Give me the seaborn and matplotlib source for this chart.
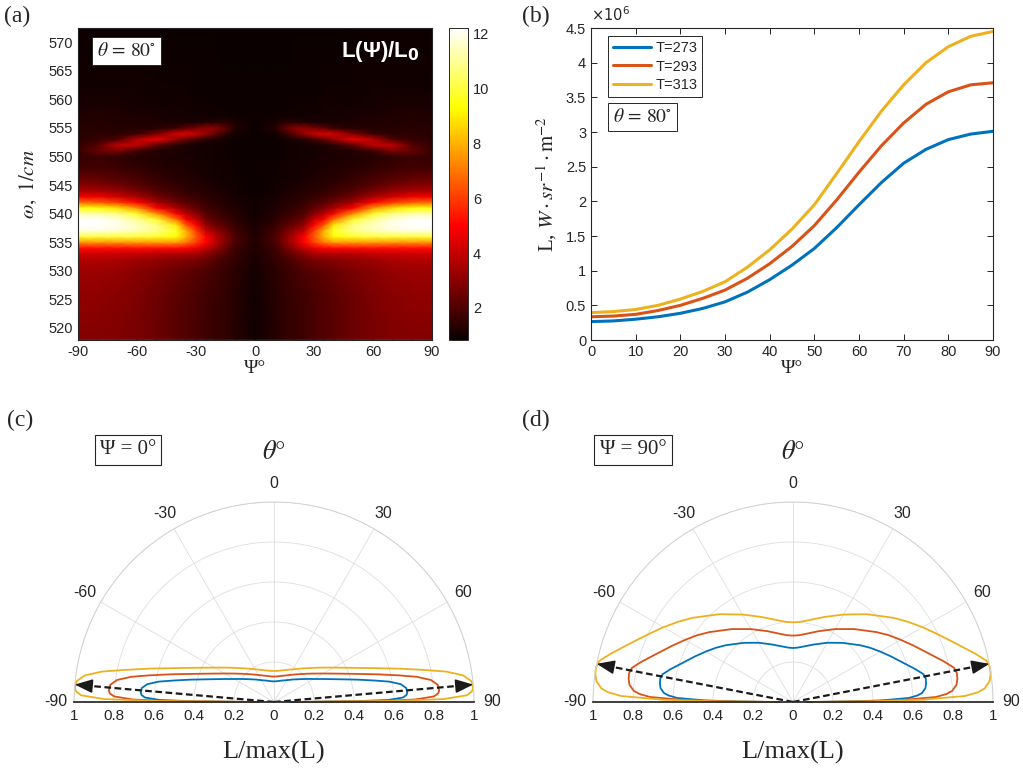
import matplotlib
matplotlib.use("Agg")
import matplotlib.pyplot as plt
import numpy as np
import pandas as pd
import seaborn as sns

# ---------------- (a) L(psi)/L0 map, read on a grid (psi >= 0 half, symmetric)
psi_half = [0, 10, 15, 20, 25, 30, 35, 40, 50, 60, 70, 80, 90]
omega_rows = [518, 522, 526, 530, 532, 533, 534, 535, 536, 537, 538, 539, 540,
              541, 542, 543, 544, 545, 546, 548, 550, 551, 552, 553, 554, 555,
              556, 557, 559, 562, 566, 572.5]
ratio_half = [
    [1.0, 1.3, 1.5, 1.6, 1.75, 1.9, 2.05, 2.2, 2.5, 2.7, 2.85, 2.9, 2.9],      # 518
    [1.0, 1.3, 1.5, 1.6, 1.75, 1.9, 2.05, 2.2, 2.5, 2.7, 2.9, 3.0, 3.0],       # 522
    [1.0, 1.35, 1.5, 1.65, 1.8, 1.95, 2.1, 2.25, 2.55, 2.8, 3.0, 3.1, 3.1],    # 526
    [1.05, 1.4, 1.6, 1.8, 2.0, 2.15, 2.3, 2.45, 2.75, 3.0, 3.2, 3.3, 3.3],     # 530
    [1.1, 1.5, 1.8, 2.1, 2.5, 2.8, 2.9, 3.0, 3.2, 3.4, 3.6, 3.7, 3.7],         # 532
    [1.1, 1.6, 2.1, 2.6, 3.0, 3.5, 3.6, 3.7, 3.8, 4.0, 4.1, 4.2, 4.2],         # 533
    [1.15, 1.7, 2.4, 3.2, 4.0, 4.6, 5.0, 5.1, 5.2, 5.2, 5.2, 5.2, 5.2],        # 534
    [1.2, 1.9, 2.8, 3.8, 5.0, 6.0, 7.0, 7.5, 7.6, 7.6, 7.5, 7.5, 7.5],         # 535
    [1.2, 1.9, 2.8, 3.8, 5.0, 6.5, 8.0, 9.3, 9.8, 10.0, 10.0, 10.0, 10.0],     # 536
    [1.15, 1.8, 2.5, 3.2, 4.0, 6.0, 8.0, 9.8, 10.8, 11.3, 11.6, 11.8, 11.8],   # 537
    [1.1, 1.6, 2.1, 2.5, 3.2, 5.0, 6.5, 9.0, 10.8, 11.5, 12.0, 12.2, 12.2],    # 538
    [1.05, 1.4, 1.8, 2.1, 2.6, 4.0, 5.0, 7.0, 9.8, 11.0, 11.8, 12.2, 12.2],    # 539
    [1.0, 1.3, 1.5, 1.8, 2.1, 3.0, 3.8, 5.0, 7.5, 9.8, 10.8, 11.2, 11.3],      # 540
    [1.0, 1.2, 1.4, 1.6, 1.8, 2.3, 2.8, 3.5, 5.0, 7.5, 8.8, 9.4, 9.5],         # 541
    [0.95, 1.1, 1.3, 1.4, 1.6, 1.9, 2.2, 2.6, 3.5, 5.0, 6.0, 6.6, 6.8],        # 542
    [0.95, 1.05, 1.2, 1.3, 1.4, 1.6, 1.8, 2.0, 2.6, 3.5, 4.2, 4.7, 4.8],       # 543
    [0.9, 1.0, 1.1, 1.2, 1.3, 1.4, 1.5, 1.7, 2.1, 2.7, 3.2, 3.5, 3.6],         # 544
    [0.9, 1.0, 1.05, 1.1, 1.2, 1.3, 1.4, 1.5, 1.8, 2.2, 2.6, 2.9, 3.0],        # 545
    [0.9, 0.95, 1.0, 1.05, 1.1, 1.2, 1.3, 1.35, 1.6, 1.9, 2.2, 2.4, 2.5],      # 546
    [0.9, 0.95, 1.0, 1.0, 1.05, 1.1, 1.15, 1.2, 1.35, 1.5, 1.7, 1.8, 1.8],     # 548
    [0.9, 0.9, 0.95, 1.0, 1.0, 1.05, 1.1, 1.1, 1.2, 1.3, 1.5, 1.68, 1.5],      # 550
    [0.9, 0.9, 0.95, 1.0, 1.0, 1.05, 1.1, 1.15, 1.24, 1.63, 2.75, 2.41, 1.6],  # 551
    [0.9, 0.9, 0.95, 1.0, 1.0, 1.07, 1.16, 1.29, 2.2, 3.86, 3.9, 2.11, 1.5],   # 552
    [0.9, 0.9, 0.97, 1.12, 1.28, 1.76, 2.29, 3.17, 4.67, 3.86, 2.0, 1.55, 1.4],  # 553
    [0.9, 0.97, 1.42, 2.34, 3.17, 4.03, 4.4, 4.19, 2.74, 1.63, 1.4, 1.45, 1.35],  # 554
    [0.9, 1.26, 2.25, 3.0, 3.17, 2.66, 2.29, 1.71, 1.29, 1.3, 1.3, 1.35, 1.3],    # 555
    [0.9, 1.14, 1.42, 1.4, 1.28, 1.16, 1.16, 1.1, 1.15, 1.2, 1.25, 1.3, 1.25],    # 556
    [0.9, 0.92, 0.97, 1.0, 1.0, 1.0, 1.05, 1.05, 1.1, 1.15, 1.2, 1.25, 1.2],      # 557
    [0.9, 0.9, 0.9, 0.95, 0.95, 0.95, 1.0, 1.0, 1.0, 1.05, 1.1, 1.1, 1.1],        # 559
    [0.88, 0.88, 0.88, 0.9, 0.9, 0.9, 0.92, 0.92, 0.95, 0.98, 1.0, 1.0, 1.0],     # 562
    [0.86, 0.86, 0.87, 0.88, 0.88, 0.88, 0.9, 0.9, 0.92, 0.94, 0.95, 0.95, 0.95], # 566
    [0.85, 0.85, 0.85, 0.86, 0.86, 0.86, 0.87, 0.87, 0.88, 0.9, 0.9, 0.9, 0.9],   # 572.5
]

# ---------------- (b) L vs psi at theta = 80 deg (units of 1e6)
psi_b = [0, 5, 10, 15, 20, 25, 30, 35, 40, 45, 50, 55, 60, 65, 70, 75, 80, 85, 90]
L_273 = [0.265, 0.275, 0.30, 0.335, 0.385, 0.455, 0.55, 0.69, 0.87, 1.08, 1.32,
         1.62, 1.95, 2.27, 2.55, 2.75, 2.89, 2.97, 3.01]
L_293 = [0.335, 0.345, 0.37, 0.425, 0.50, 0.60, 0.72, 0.89, 1.10, 1.35, 1.65,
         2.02, 2.42, 2.80, 3.13, 3.40, 3.58, 3.68, 3.71]
L_313 = [0.395, 0.41, 0.44, 0.50, 0.59, 0.70, 0.84, 1.05, 1.30, 1.60, 1.95,
         2.40, 2.86, 3.30, 3.68, 4.00, 4.23, 4.38, 4.45]
temps = ["T=273", "T=293", "T=313"]
colors = ["#0072BD", "#D95319", "#EDB120"]

# ---------------- (c), (d) angular patterns L/max(L), theta >= 0 half (symmetric)
theta_half = [0, 5, 10, 20, 30, 40, 50, 55, 60, 65, 70, 75, 78, 80, 82, 84, 86, 87, 88, 89, 89.5, 90]
c_273 = [0.103, 0.104, 0.106, 0.114, 0.126, 0.147, 0.178, 0.201, 0.230, 0.272, 0.333, 0.432,
         0.516, 0.586, 0.640, 0.665, 0.668, 0.663, 0.646, 0.570, 0.40, 0.08]
c_293 = [0.127, 0.128, 0.131, 0.140, 0.156, 0.181, 0.220, 0.248, 0.285, 0.336, 0.412, 0.535,
         0.640, 0.725, 0.792, 0.823, 0.828, 0.822, 0.80, 0.705, 0.50, 0.10]
c_313 = [0.155, 0.156, 0.159, 0.170, 0.189, 0.219, 0.266, 0.300, 0.344, 0.405, 0.497, 0.645,
         0.770, 0.875, 0.955, 0.993, 0.998, 0.99, 0.965, 0.85, 0.60, 0.12]
d_273 = [0.270, 0.273, 0.281, 0.306, 0.342, 0.386, 0.441, 0.472, 0.504, 0.540, 0.581, 0.634,
         0.667, 0.674, 0.672, 0.666, 0.647, 0.623, 0.580, 0.44, 0.27, 0.07]
d_293 = [0.332, 0.335, 0.345, 0.377, 0.421, 0.476, 0.544, 0.583, 0.622, 0.666, 0.717, 0.782,
         0.823, 0.832, 0.830, 0.822, 0.798, 0.769, 0.715, 0.54, 0.33, 0.08]
d_313 = [0.398, 0.402, 0.414, 0.452, 0.505, 0.573, 0.655, 0.70, 0.748, 0.80, 0.862, 0.94,
         0.99, 1.0, 0.998, 0.988, 0.96, 0.925, 0.86, 0.65, 0.40, 0.10]
peak_theta_c = [-85, 85]
peak_theta_d = [-79, 79]
r_ticks = [0, 0.2, 0.4, 0.6, 0.8, 1]
theta_ticks = [-90, -60, -30, 0, 30, 60, 90]

sns.set_theme(style="ticks")
plt.rcParams["font.family"] = ["Liberation Sans", "DejaVu Sans"]
plt.rcParams["mathtext.fontset"] = "stix"
plt.rcParams["axes.unicode_minus"] = False
SERIF = ["Liberation Serif", "DejaVu Serif"]
EDGE = "0.15"

W, H = 1023, 772
fig = plt.figure(figsize=(W / 100, H / 100), dpi=100)


def box(l, t, r, b):
    return [l / W, 1 - b / H, (r - l) / W, (b - t) / H]


def mirror(vals):
    vals = list(vals)
    return vals[:0:-1] + vals


def style_box(ax):
    for s in ax.spines.values():
        s.set_color(EDGE)
        s.set_linewidth(0.8)
    ax.tick_params(direction="in", top=True, right=True, colors=EDGE,
                   labelsize=10.5, length=4, width=0.7)


# ---------------- (a)
axa = fig.add_axes(box(78, 28, 432, 340))
psi_full = [-p for p in psi_half[:0:-1]] + psi_half
grid = np.array([mirror(row) for row in ratio_half])
mesh = axa.pcolormesh(psi_full, omega_rows, grid, shading="gouraud",
                      cmap="hot", vmin=0.83, vmax=12.2, rasterized=True)
axa.set_xlim(-90, 90)
axa.set_ylim(517.9, 572.5)
axa.set_xticks(range(-90, 91, 30))
axa.set_yticks(range(520, 571, 5))
style_box(axa)
axa.set_xlabel("Ψ°", family=SERIF, fontsize=14, labelpad=1)
axa.set_ylabel(r"$\omega,\ 1/cm$", fontsize=15, labelpad=7)
axa.text(0.054, 0.955, r"$\theta\,=\,80^{\circ}$", transform=axa.transAxes,
         fontsize=14, va="top", ha="left",
         bbox=dict(boxstyle="square,pad=0.25", fc="white", ec=EDGE, lw=0.7))
axa.text(0.965, 0.925, r"L(Ψ)/L$_\mathbf{0}$", transform=axa.transAxes, color="white",
         fontsize=16, fontweight="bold", ha="right", va="center",
         math_fontfamily="dejavusans")

cax = fig.add_axes(box(449, 28, 468, 340))
cb = fig.colorbar(mesh, cax=cax, ticks=[2, 4, 6, 8, 10, 12])
cb.outline.set_edgecolor(EDGE)
cb.outline.set_linewidth(0.7)
cax.tick_params(direction="in", labelsize=10.5, colors=EDGE, length=3)

# ---------------- (b)
axb = fig.add_axes(box(591, 28, 993, 340))
for lab, vals, col in zip(temps, [L_273, L_293, L_313], colors):
    df = pd.DataFrame({"psi": psi_b, "L": np.array(vals) * 1e6})
    sns.lineplot(data=df, x="psi", y="L", color=col, lw=2.2, label=lab, ax=axb)
axb.set_xlim(0, 90)
axb.set_ylim(0, 4.5e6)
axb.set_xticks(range(0, 91, 10))
axb.set_yticks(np.arange(0, 4.51e6, 0.5e6))
axb.yaxis.set_major_formatter(matplotlib.ticker.FuncFormatter(lambda v, p: f"{v / 1e6:g}"))
style_box(axb)
axb.text(0.0, 1.012, r"$\times10^{6}$", transform=axb.transAxes, fontsize=10.5,
         color=EDGE, ha="left", va="bottom", math_fontfamily="dejavusans")
axb.set_xlabel("Ψ°", family=SERIF, fontsize=14, labelpad=1)
axb.set_ylabel(r"L, $W \cdot sr^{-1} \cdot \mathrm{m}^{-2}$", family=SERIF,
               fontsize=15, labelpad=5)
leg = axb.legend(loc="upper left", bbox_to_anchor=(0.042, 0.974), borderaxespad=0,
                 fontsize=10.5, fancybox=False, edgecolor=EDGE, framealpha=1,
                 handlelength=2.6, labelspacing=0.3, borderpad=0.35, handletextpad=0.3)
leg.get_frame().set_linewidth(0.7)
axb.text(0.055, 0.744, r"$\theta\,=\,80^{\circ}$", transform=axb.transAxes,
         fontsize=14, va="top", ha="left",
         bbox=dict(boxstyle="square,pad=0.25", fc="white", ec=EDGE, lw=0.7))


# ---------------- (c), (d)
def polar_panel(cx, curves, peaks, psi_text, box_cx):
    # the half-disc is drawn at half the size of its axes box, centred in it
    ax = fig.add_axes(box(cx - 400, 402, cx + 400, 802), projection="polar")
    ax.set_theta_zero_location("N")
    ax.set_theta_direction(-1)
    ax.set_thetamin(-90)
    ax.set_thetamax(90)
    ax.set_rlim(0, 1)
    ax.set_rgrids([0.2, 0.4, 0.6, 0.8, 1.0], labels=[])
    ax.set_thetagrids(theta_ticks, labels=[str(t) for t in theta_ticks],
                      fontsize=11.5, color=EDGE)
    ax.tick_params(axis="x", pad=0)
    ax.grid(color="0.87", lw=0.6)
    ax.spines["polar"].set_color("0.82")
    ax.spines["polar"].set_linewidth(0.7)
    for s in ("start", "end", "inner"):
        ax.spines[s].set_visible(False)
    th = np.deg2rad([-t for t in theta_half[:0:-1]] + theta_half)
    for vals, col in zip(curves, colors):
        ax.plot(th, mirror(vals), color=col, lw=1.3, clip_on=False)
    for p in peaks:
        t = np.deg2rad(p)
        ax.plot([t, t], [0, 0.95], color="k", ls="--", lw=1.6, dashes=(3, 1.6))
        ax.annotate("", xy=(t, 1.0), xytext=(t, 0.95),
                    arrowprops=dict(arrowstyle="-|>,head_length=0.9,head_width=0.35",
                                    color="k", lw=1.2, shrinkA=0, shrinkB=0,
                                    mutation_scale=12))
    for side in (-90, 90):
        for r in r_ticks:
            if side == 90 and r == 0:
                continue
            ax.annotate(f"{r:g}", xy=(np.deg2rad(side), r), xytext=(0, -5),
                        textcoords="offset points", ha="center", va="top",
                        fontsize=11, color=EDGE, annotation_clip=False)
    fig.text(cx / W, 1 - 452 / H, r"$\theta°$", fontsize=19, ha="center", va="center")
    fig.text(box_cx / W, 1 - 450 / H, psi_text, family=SERIF, fontsize=15,
             ha="center", va="center",
             bbox=dict(boxstyle="square,pad=0.25", fc="white", ec=EDGE, lw=0.8))
    fig.text(cx / W, 1 - 752 / H, "L/max(L)", family=SERIF, fontsize=19,
             ha="center", va="center")
    return ax


polar_panel(274, [c_273, c_293, c_313], peak_theta_c, "Ψ = 0°", 128)
polar_panel(793, [d_273, d_293, d_313], peak_theta_d, "Ψ = 90°", 633)

for lab, x, y in [("(a)", 4, 16), ("(b)", 522, 16), ("(c)", 7, 420), ("(d)", 522, 420)]:
    fig.text(x / W, 1 - y / H, lab, family=SERIF, fontsize=17, ha="left", va="center")

fig.savefig("out.png", dpi=100)
